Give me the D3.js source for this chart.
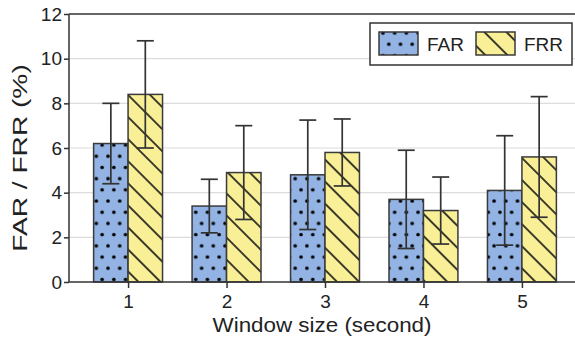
<!DOCTYPE html>
<html>
<head>
<meta charset="utf-8">
<script src="https://cdn.jsdelivr.net/npm/d3@7"></script>
<style>
  body { margin: 0; background: #fff; }
  text { font-family: "Liberation Sans", Arial, sans-serif; fill: #222; }
</style>
</head>
<body>
<div id="chart"></div>
<script>
// data
const windows = [1, 2, 3, 4, 5];
const farMean = [6.2, 3.4, 4.8, 3.7, 4.1];
const farErr = [1.8, 1.2, 2.45, 2.2, 2.45];
const frrMean = [8.4, 4.9, 5.8, 3.2, 5.6];
const frrErr = [2.4, 2.1, 1.5, 1.5, 2.7];
const yTicks = [0, 2, 4, 6, 8, 10, 12];

const width = 575;
const height = 346;
const margin = { top: 14, left: 69, bottom: 64 };

const svg = d3
  .select('#chart')
  .append('svg')
  .attr('width', width)
  .attr('height', height);

const x = d3.scaleLinear().domain([0.4, 5.6]).range([margin.left, 581]);
const y = d3.scaleLinear().domain([0, 12]).range([height - margin.bottom, margin.top]);
const barW = 0.35;

// hatch patterns
const defs = svg.append('defs');
const dots = defs
  .append('pattern')
  .attr('id', 'dots')
  .attr('patternUnits', 'userSpaceOnUse')
  .attr('x', 96.3)
  .attr('y', 201)
  .attr('width', 11.7)
  .attr('height', 22.4);
dots.append('rect').attr('width', 11.7).attr('height', 22.4).attr('fill', '#92b3e3');
[[0, 0], [11.7, 0], [0, 22.4], [11.7, 22.4], [5.85, 11.2]].forEach(p => {
  dots.append('circle').attr('cx', p[0]).attr('cy', p[1]).attr('r', 1.8).attr('fill', '#000');
});

const hatch = defs
  .append('pattern')
  .attr('id', 'hatch')
  .attr('patternUnits', 'userSpaceOnUse')
  .attr('width', 15.6)
  .attr('height', 15.6)
  .attr('patternTransform', 'rotate(-45)');
hatch.append('rect').attr('width', 15.6).attr('height', 15.6).attr('fill', '#f8ef96');
hatch
  .append('line')
  .attr('x1', 7.8).attr('x2', 7.8)
  .attr('y1', -1).attr('y2', 17)
  .attr('stroke', '#111')
  .attr('stroke-width', 1.6);

// grid
svg
  .append('g')
  .selectAll('line')
  .data(yTicks.slice(1, -1))
  .join('line')
  .attr('x1', margin.left)
  .attr('x2', width)
  .attr('y1', d => y(d))
  .attr('y2', d => y(d))
  .attr('stroke', '#dcdcdc')
  .attr('stroke-width', 1.2);

// bars
const series = [
  { key: 'FAR', mean: farMean, err: farErr, fill: 'url(#dots)', off: -barW },
  { key: 'FRR', mean: frrMean, err: frrErr, fill: 'url(#hatch)', off: 0 }
];

series.forEach(s => {
  const g = svg.append('g');
  g.selectAll('rect')
    .data(windows)
    .join('rect')
    .attr('x', (d, i) => x(d + s.off))
    .attr('width', x(barW) - x(0))
    .attr('y', (d, i) => y(s.mean[i]))
    .attr('height', (d, i) => y(0) - y(s.mean[i]))
    .attr('fill', s.fill)
    .attr('stroke', '#3a3a3a')
    .attr('stroke-width', 1.5);
});

// error bars
series.forEach(s => {
  const g = svg.append('g').attr('stroke', '#333').attr('stroke-width', 1.7);
  windows.forEach((d, i) => {
    const cx = x(d + s.off + barW / 2);
    const top = y(s.mean[i] + s.err[i]);
    const bot = y(s.mean[i] - s.err[i]);
    g.append('line').attr('x1', cx).attr('x2', cx).attr('y1', top).attr('y2', bot);
    g.append('line').attr('x1', cx - 8.5).attr('x2', cx + 8.5).attr('y1', top).attr('y2', top);
    g.append('line').attr('x1', cx - 8.5).attr('x2', cx + 8.5).attr('y1', bot).attr('y2', bot);
  });
});

// axes
const yAxis = svg
  .append('g')
  .attr('transform', 'translate(' + margin.left + ',0)')
  .call(d3.axisLeft(y).tickValues(yTicks).tickSize(5).tickPadding(2));
const xAxis = svg
  .append('g')
  .attr('transform', 'translate(0,' + y(0) + ')')
  .call(d3.axisBottom(x).tickValues(windows).tickFormat(d3.format('d')).tickSize(6).tickPadding(7));

[yAxis, xAxis].forEach(a => {
  a.selectAll('.domain').attr('stroke', '#333').attr('stroke-width', 1.5);
  a.selectAll('.tick line').attr('stroke', '#333').attr('stroke-width', 1.5);
  a.selectAll('.tick text').style('font-size', '19px').attr('fill', '#222');
});
yAxis.select('.domain').attr('d', 'M0,' + y(12) + 'V' + y(0));
xAxis.select('.domain').attr('d', 'M' + margin.left + ',0H' + width);

// top spine
svg
  .append('line')
  .attr('x1', margin.left)
  .attr('x2', width)
  .attr('y1', y(12))
  .attr('y2', y(12))
  .attr('stroke', '#333')
  .attr('stroke-width', 1.5);

// axis titles (the source figure stretches them along the text direction)
svg
  .append('text')
  .text('Window size (second)')
  .attr('transform', 'translate(322,332) scale(1.12,1)')
  .attr('text-anchor', 'middle')
  .style('font-size', '20px');

svg
  .append('text')
  .text('FAR / FRR (%)')
  .attr('transform', 'translate(27,158) rotate(-90) scale(1.34,1)')
  .attr('text-anchor', 'middle')
  .style('font-size', '21px');

// legend
const legend = svg.append('g');
legend
  .append('rect')
  .attr('x', 370)
  .attr('y', 23)
  .attr('width', 202)
  .attr('height', 42)
  .attr('fill', '#fff')
  .attr('stroke', '#333')
  .attr('stroke-width', 1.5);

const legendX = [379, 476];
series.forEach((s, i) => {
  legend
    .append('rect')
    .attr('x', legendX[i])
    .attr('y', 32)
    .attr('width', 39)
    .attr('height', 23)
    .attr('fill', s.fill)
    .attr('stroke', '#3a3a3a')
    .attr('stroke-width', 1.5);
  legend
    .append('text')
    .text(s.key)
    .attr('x', legendX[i] + 48)
    .attr('y', 51)
    .style('font-size', '19px');
});
</script>
</body>
</html>
